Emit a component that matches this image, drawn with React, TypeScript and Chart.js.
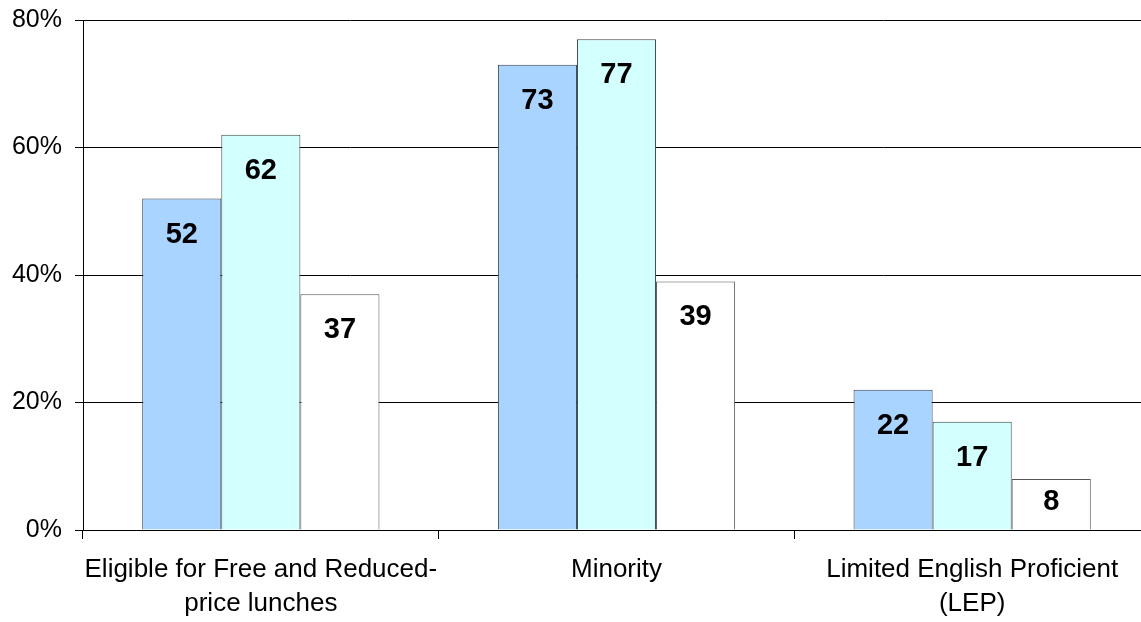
import React, { useEffect, useRef } from "react";
import { Chart, registerables } from "chart.js";

Chart.register(...registerables);

const categories: (string | string[])[] = [
  ["Eligible for Free and Reduced-", "price lunches"],
  "Minority",
  ["Limited English Proficient", "(LEP)"],
];

const seriesA = [52, 73, 22];
const seriesB = [62, 77, 17];
const seriesC = [37, 39, 8];

const yTicks = [0, 20, 40, 60, 80];

const FONT = "'Liberation Sans', Arial, Helvetica, sans-serif";

// Writes each bar's value near the inside top of the bar.
const valueLabels = {
  id: "valueLabels",
  afterDatasetsDraw(chart: Chart) {
    const ctx = chart.ctx;
    ctx.save();
    ctx.font = `bold 29px ${FONT}`;
    ctx.fillStyle = "#000";
    ctx.textAlign = "center";
    ctx.textBaseline = "middle";
    chart.data.datasets.forEach((ds, di) => {
      const meta = chart.getDatasetMeta(di);
      meta.data.forEach((el: any, i: number) => {
        const v = ds.data[i] as number;
        const y = Math.min(el.y + 36, (el.y + el.base) / 2 - 2);
        ctx.fillText(String(v), el.x, y);
      });
    });
    ctx.restore();
  },
};

export default function App() {
  const ref = useRef<HTMLCanvasElement | null>(null);

  useEffect(() => {
    if (!ref.current) return;
    const chart = new Chart(ref.current, {
      type: "bar",
      data: {
        labels: categories,
        datasets: [
          {
            data: seriesA,
            backgroundColor: "#A9D4FF",
            borderColor: "#34404c",
            borderWidth: 1,
          },
          {
            data: seriesB,
            backgroundColor: "#D4FFFF",
            borderColor: "#3a4444",
            borderWidth: 1,
          },
          {
            data: seriesC,
            backgroundColor: "#FFFFFF",
            borderColor: "#555555",
            borderWidth: 1,
          },
        ],
      },
      options: {
        animation: false,
        responsive: false,
        devicePixelRatio: 1,
        layout: { padding: { top: 20, right: 0, left: 0, bottom: 0 } },
        datasets: {
          bar: { categoryPercentage: 0.667, barPercentage: 1 },
        },
        plugins: {
          legend: { display: false },
          tooltip: { enabled: false },
        },
        scales: {
          x: {
            grid: {
              display: true,
              drawOnChartArea: false,
              drawTicks: true,
              tickLength: 9,
              color: "#000",
            },
            border: { display: true, color: "#000", width: 1 },
            ticks: {
              color: "#000",
              font: { family: FONT, size: 26, lineHeight: 1.3 },
              padding: 14,
              maxRotation: 0,
              autoSkip: false,
            },
            afterFit(scale: any) {
              scale.height = 92;
            },
          },
          y: {
            min: 0,
            max: 80,
            afterBuildTicks(scale: any) {
              scale.ticks = yTicks.map((v) => ({ value: v }));
            },
            grid: {
              color: "#000",
              lineWidth: 1,
              tickLength: 8,
            },
            border: { display: true, color: "#000", width: 1 },
            ticks: {
              color: "#000",
              font: { family: FONT, size: 25 },
              padding: 13,
              callback: (v: any) => `${v}%`,
            },
            afterFit(scale: any) {
              scale.width = 83;
              scale.paddingTop = 0;
              scale.paddingBottom = 0;
            },
          },
        },
      },
      plugins: [valueLabels],
    });
    return () => chart.destroy();
  }, []);

  return (
    <div
      style={{
        position: "fixed",
        left: 0,
        top: 0,
        width: 1141,
        height: 622,
        overflow: "hidden",
        background: "#fff",
      }}
    >
      <canvas ref={ref} width={1150} height={622} />
    </div>
  );
}
